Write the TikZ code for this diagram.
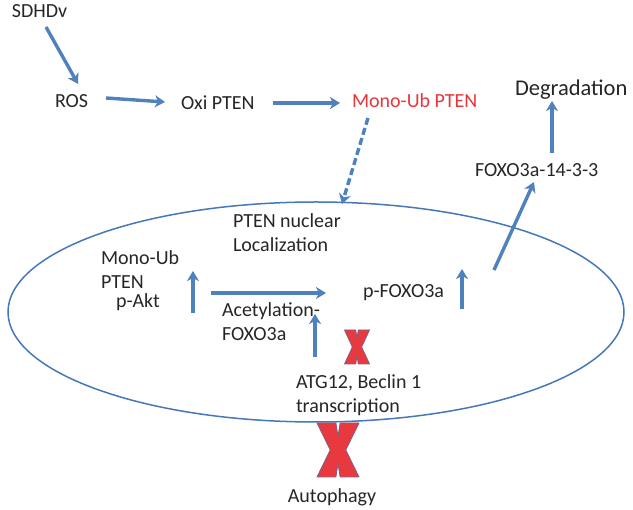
\documentclass[tikz,border=0pt]{standalone}
\usepackage{fontspec}
\setmainfont{Carlito}
\usetikzlibrary{arrows.meta}
\definecolor{arrblue}{RGB}{79,129,189}
\definecolor{ellblue}{RGB}{70,120,185}
\definecolor{monored}{RGB}{230,55,60}
\definecolor{xred}{RGB}{232,58,62}
\definecolor{xedge}{RGB}{125,95,135}
\tikzset{
  txt/.style={inner sep=0pt, outer sep=0pt, font=\fontsize{20}{24}\selectfont, text=black!85, anchor=base west},
  arr/.style={draw=arrblue, line width=3.4pt, -{Stealth[width=12pt,length=10pt,inset=3pt]}},
  xmark/.style={fill=xred, draw=xedge, line width=0.8pt, line join=round},
}
\begin{document}
\begin{tikzpicture}[x=1pt,y=-1pt]
\useasboundingbox[fill=white] (0,0) rectangle (633,510);

% nucleus ellipse
\draw[ellblue, line width=1.5pt] (316,312) ellipse [x radius=308, y radius=110];

% text nodes
\node[txt] (sdhdv) at (12,18) {SDHDv};
\node[txt] (ros) at (55,108) {ROS};
\node[txt] (oxi) at (181,110) {Oxi PTEN};
\node[txt, text=monored] (mono) at (352,108) {Mono-Ub PTEN};
\node[txt, font=\fontsize{22.5}{27}\selectfont] (degr) at (515,96) {Degradation};
\node[txt] (fox14) at (475,177) {FOXO3a-14-3-3};
\node[txt] (nuc1) at (233,228) {PTEN nuclear};
\node[txt] (nuc2) at (233,252) {Localization};
\node[txt] (mub1) at (101,265) {Mono-Ub};
\node[txt] (mub2) at (101,289) {PTEN};
\node[txt] (pakt) at (116,308) {p-Akt};
\node[txt] (acet1) at (222,317) {Acetylation-};
\node[txt] (acet2) at (222,341) {FOXO3a};
\node[txt] (pfox) at (363,298) {p-FOXO3a};
\node[txt] (atg1) at (296,389) {ATG12, Beclin 1};
\node[txt] (atg2) at (296,413) {transcription};
\node[txt, anchor=base] (auto) at (332,503) {Autophagy};

% arrow end points
\coordinate (s1) at (46,27);   \coordinate (e1) at (78,84);
\coordinate (s2) at (106,98);  \coordinate (e2) at (165,102);
\coordinate (s3) at (273,103); \coordinate (e3) at (340,103);
\coordinate (s4) at (368,118); \coordinate (e4) at (342,204);
\coordinate (s5) at (193,313); \coordinate (e5) at (193,271);
\coordinate (s6) at (211,293); \coordinate (e6) at (326,293);
\coordinate (s7) at (315,357); \coordinate (e7) at (315,314);
\coordinate (s8) at (462,309); \coordinate (e8) at (462,269);
\coordinate (s9) at (494,270); \coordinate (e9) at (534,182);
\coordinate (s10) at (552,153); \coordinate (e10) at (552,101);

\draw[arr] (s1) -- (e1);
\draw[arr] (s2) -- (e2);
\draw[arr] (s3) -- (e3);
\draw[arr, dash pattern=on 7pt off 3.5pt] (s4) -- (e4);
\draw[arr] (s5) -- (e5);
\draw[arr] (s6) -- (e6);
\draw[arr] (s7) -- (e7);
\draw[arr] (s8) -- (e8);
\draw[arr] (s9) -- (e9);
\draw[arr] (s10) -- (e10);

% red crosses
\begin{scope}[shift={(357,347)}, xscale=12.5, yscale=17]
\filldraw[xmark] (-1,-1) -- (-0.1,-1) -- (0,-0.5) -- (0.1,-1) -- (1,-1) -- (0.37,0) -- (1,1) -- (0.1,1) -- (0,0.5) -- (-0.1,1) -- (-1,1) -- (-0.37,0) -- cycle;
\end{scope}
\begin{scope}[shift={(338,450)}, xscale=21, yscale=27]
\filldraw[xmark] (-1,-1) -- (-0.1,-1) -- (0,-0.5) -- (0.1,-1) -- (1,-1) -- (0.37,0) -- (1,1) -- (0.1,1) -- (0,0.5) -- (-0.1,1) -- (-1,1) -- (-0.37,0) -- cycle;
\end{scope}
\end{tikzpicture}
\end{document}
